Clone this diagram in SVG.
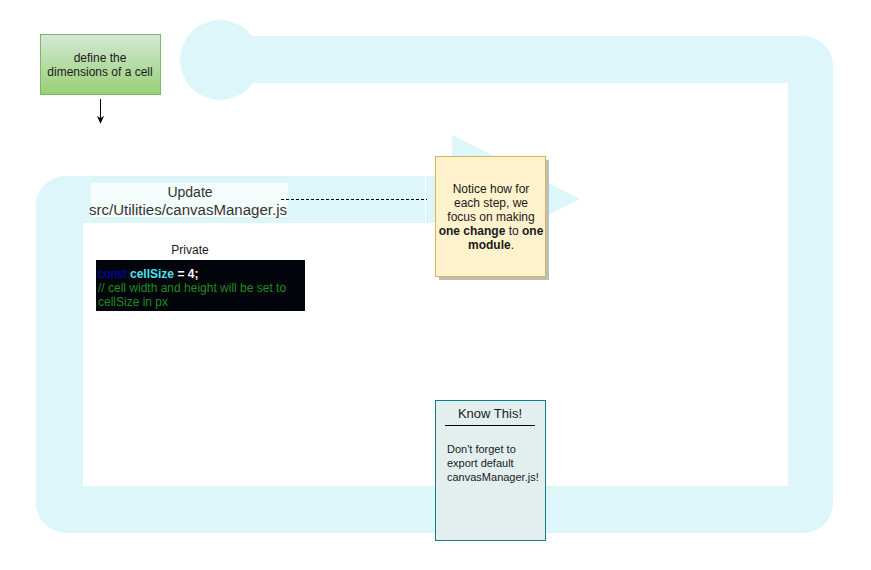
<svg xmlns="http://www.w3.org/2000/svg" width="871" height="570" viewBox="0 0 871 570">
<defs>
<style>
.band{fill:#DDF6F9;}
.t{font-family:"Liberation Sans",Arial,sans-serif;}
</style>
<linearGradient id="g" x1="0" y1="0" x2="0" y2="1"><stop offset="0" stop-color="#D5E8D4"/><stop offset="1" stop-color="#97D077"/></linearGradient>
<marker id="ah" viewBox="0 0 10 10" refX="9" refY="5" markerWidth="8" markerHeight="9" markerUnits="userSpaceOnUse" orient="auto"><path d="M0,0.5 L10,5 L0,9.5 L3,5 Z" fill="#000"/></marker>
</defs>
<rect width="871" height="570" fill="#fff"/>
<g id="loop">
<path class="band" d="M66 176 H452 V223 H83 V486 H788 V83 H220 V36 H803 A30 30 0 0 1 833 66 V503 A30 30 0 0 1 803 533 H66 A30 30 0 0 1 36 503 V206 A30 30 0 0 1 66 176 Z"/>
<circle class="band" cx="220" cy="60" r="40"/>
<path class="band" d="M452 135 L580 199 L452 263 Z"/>
<line x1="425.5" y1="176" x2="425.5" y2="223" stroke="#fff" stroke-width="1"/>
</g>
<g id="update">
<rect x="91" y="183" width="197" height="34" fill="#F4FCFC"/>
<text class="t" x="190" y="197" font-size="14" text-anchor="middle" fill="#333">Update</text>
<text class="t" x="188" y="215" font-size="14" text-anchor="middle" fill="#333" textLength="198" lengthAdjust="spacingAndGlyphs">src/Utilities/canvasManager.js</text>
</g>
<g id="connectors">
<line x1="100.5" y1="99" x2="100.5" y2="123" stroke="#000" stroke-width="1" marker-end="url(#ah)"/>
<line x1="281" y1="199.5" x2="427" y2="199.5" stroke="#000" stroke-width="1" stroke-dasharray="3,2"/>
</g>
<g id="define">
<rect x="40.5" y="34.5" width="120" height="60" fill="url(#g)" stroke="#82B366"/>
<text class="t" x="100" y="62" font-size="12" text-anchor="middle" fill="#1a1a1a">define the</text>
<text class="t" x="100" y="76" font-size="12" text-anchor="middle" fill="#1a1a1a">dimensions of a cell</text>
</g>
<g id="private">
<text class="t" x="190" y="254" font-size="12" text-anchor="middle" fill="#1a1a1a">Private</text>
<rect x="96" y="260" width="209" height="51" fill="#01040A"/>
<text class="t" x="98" y="278" font-size="12"><tspan fill="#0000CC">const </tspan><tspan fill="#4FE0F0" font-weight="bold">cellSize</tspan><tspan fill="#fff" font-weight="bold"> = 4;</tspan></text>
<text class="t" x="98" y="292" font-size="12" fill="#1D8F1D">// cell width and height will be set to</text>
<text class="t" x="98" y="306" font-size="12" fill="#1D8F1D">cellSize in px</text>
</g>
<g id="notice">
<rect x="439" y="160" width="110" height="120" fill="#BDBDBD"/>
<rect x="435.5" y="156.5" width="110" height="120" fill="#FFF2CC" stroke="#D6B656"/>
<g class="t" font-size="12" text-anchor="middle" fill="#1a1a1a">
<text x="491" y="193">Notice how for</text>
<text x="491" y="207">each step, we</text>
<text x="491" y="221">focus on making</text>
<text x="491" y="235"><tspan font-weight="bold">one change</tspan> to <tspan font-weight="bold">one</tspan></text>
<text x="491" y="249"><tspan font-weight="bold">module</tspan>.</text>
</g>
</g>
<g id="know">
<rect x="435.5" y="400.5" width="110" height="140" fill="#E3EFEF" stroke="#0E8088"/>
<text class="t" x="490" y="418" font-size="13" text-anchor="middle" fill="#1a1a1a">Know This!</text>
<line x1="445" y1="425.5" x2="535" y2="425.5" stroke="#000" stroke-width="1"/>
<g class="t" font-size="11" fill="#1a1a1a">
<text x="447" y="453">Don't forget to</text>
<text x="447" y="467">export default</text>
<text x="447" y="481">canvasManager.js!</text>
</g>
</g>
</svg>
